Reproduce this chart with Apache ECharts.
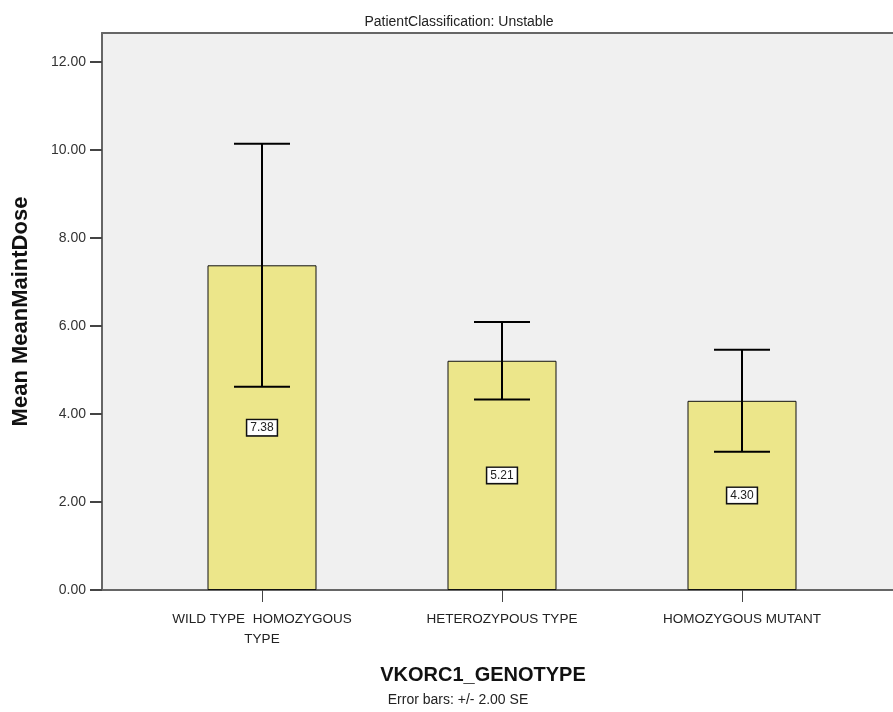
<!DOCTYPE html>
<html>
<head>
<meta charset="utf-8">
<script src="https://cdn.jsdelivr.net/npm/echarts@6/dist/echarts.min.js"></script>
<style>
  html, body { margin: 0; padding: 0; background: #fff; }
  #chart { width: 893px; height: 712px; }
</style>
</head>
<body>
<div id="chart"></div>
<script>
// categories and values
var genotypes = ['WILD TYPE  HOMOZYGOUS\nTYPE', 'HETEROZYPOUS TYPE', 'HOMOZYGOUS MUTANT'];
var meanDose = [7.38, 5.21, 4.30];
var errLow = [4.62, 4.33, 3.14];   // mean - 2 SE
var errHigh = [10.14, 6.09, 5.46]; // mean + 2 SE
var yTicks = [0, 2, 4, 6, 8, 10, 12];

var font = 'Liberation Sans, Arial, sans-serif';
var yMax = 12.66;

var chart = echarts.init(document.getElementById('chart'));

var option = {
    animation: false,
    textStyle: { fontFamily: font },
    title: [
        { text: 'PatientClassification: Unstable', left: 454, top: 10, textAlign: 'center',
          textStyle: { fontSize: 14, fontWeight: 'normal', color: '#222' } },
        { text: 'VKORC1_GENOTYPE', left: 478, top: 660, textAlign: 'center',
          textStyle: { fontSize: 20, fontWeight: 'bold', color: '#111' } },
        { text: 'Error bars: +/- 2.00 SE', left: 453, top: 688, textAlign: 'center',
          textStyle: { fontSize: 14, fontWeight: 'normal', color: '#222' } }
    ],
    grid: [
        // frame with background and the visible y axis
        { left: 102, right: -3, top: 33, bottom: 122, show: true,
          backgroundColor: '#f0f0f0', borderWidth: 0 },
        // grid that holds the bars
        { left: 142, right: 31, top: 33, bottom: 122 }
    ],
    xAxis: [
        { gridIndex: 0, type: 'value', min: 0, max: 1, position: 'top', show: true,
          axisLine: { show: true, onZero: false, lineStyle: { color: '#666', width: 2 } },
          axisTick: { show: false }, axisLabel: { show: false }, splitLine: { show: false } },
        { gridIndex: 1, type: 'category', data: genotypes,
          axisLine: { show: false },
          axisTick: { show: true, alignWithLabel: true, length: 12, lineStyle: { color: '#444', width: 1 } },
          axisLabel: { fontSize: 13.5, color: '#222', margin: 19, lineHeight: 20, interval: 0 } },
        // bottom axis line of the frame
        { gridIndex: 0, type: 'value', min: 0, max: 1, position: 'bottom',
          axisLine: { show: true, onZero: false, lineStyle: { color: '#666', width: 2 } },
          axisTick: { show: false }, axisLabel: { show: false }, splitLine: { show: false } }
    ],
    yAxis: [
        { gridIndex: 0, type: 'value', min: 0, max: yMax, interval: 2,
          name: 'Mean MeanMaintDose', nameLocation: 'middle', nameGap: 70,
          nameTextStyle: { fontSize: 22, fontWeight: 'bold', color: '#111' },
          axisLine: { show: true, lineStyle: { color: '#666', width: 2 } },
          axisTick: { show: true, length: 12, lineStyle: { color: '#444', width: 2 },
                      customValues: yTicks },
          axisLabel: { fontSize: 14, color: '#333', margin: 16,
                       customValues: yTicks,
                       formatter: function (v) { return v.toFixed(2); } },
          splitLine: { show: false } },
        { gridIndex: 1, type: 'value', min: 0, max: yMax, show: false }
    ],
    series: [
        {
            type: 'bar',
            xAxisIndex: 1, yAxisIndex: 1,
            data: meanDose,
            barWidth: 109,
            itemStyle: { color: '#ece68a', borderColor: '#111', borderWidth: 1 },
            label: {
                show: true, position: 'inside',
                formatter: function (p) { return p.value.toFixed(2); },
                fontSize: 12, color: '#222',
                backgroundColor: '#fff', borderColor: '#111', borderWidth: 1.5,
                padding: [2, 3, 1, 3]
            },
            z: 2
        },
        {
            type: 'custom',
            xAxisIndex: 1, yAxisIndex: 1,
            data: meanDose.map(function (m, i) { return [i, errLow[i], errHigh[i]]; }),
            renderItem: function (params, api) {
                var lo = api.coord([api.value(0), api.value(1)]);
                var hi = api.coord([api.value(0), api.value(2)]);
                var half = 28;
                var st = { stroke: '#000', lineWidth: 2 };
                return {
                    type: 'group',
                    children: [
                        { type: 'line', shape: { x1: hi[0], y1: hi[1], x2: lo[0], y2: lo[1] }, style: st },
                        { type: 'line', shape: { x1: hi[0] - half, y1: hi[1], x2: hi[0] + half, y2: hi[1] }, style: st },
                        { type: 'line', shape: { x1: lo[0] - half, y1: lo[1], x2: lo[0] + half, y2: lo[1] }, style: st }
                    ]
                };
            },
            z: 3
        }
    ]
};

chart.setOption(option);
</script>
</body>
</html>
